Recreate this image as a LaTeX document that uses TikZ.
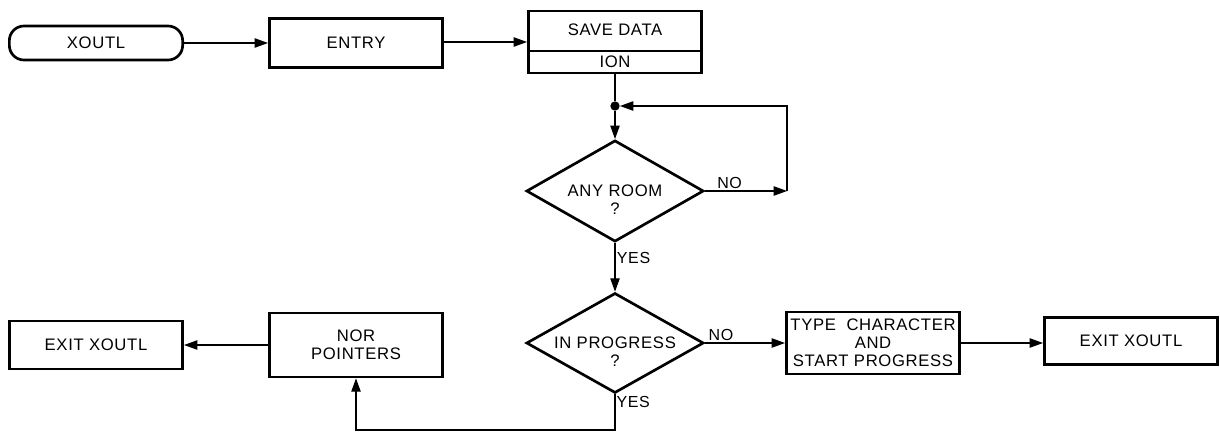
\documentclass[tikz,border=0pt]{standalone}
\usepackage{fontspec}
\setmainfont[LetterSpace=4]{Liberation Sans}
\usepackage{tikz}
\usetikzlibrary{shapes.geometric,arrows.meta}

\begin{document}
\begin{tikzpicture}[x=0.75pt, y=-0.75pt,
  box/.style={draw, line width=2pt, minimum width=130pt, align=center, inner sep=2pt},
  term/.style={box, rounded corners=11pt, minimum height=25.5pt},
  decide/.style={draw, line width=2pt, diamond, minimum width=133pt, minimum height=76pt},
  ask/.style={align=center, yshift=-6.5pt},
  flow/.style={line width=0.9pt, -{Triangle[length=10pt,width=7pt]}},
  tag/.style={inner sep=1pt, font=\fontsize{12}{13}\selectfont}]

  \fontsize{12.5}{13.5}\selectfont

  \newcommand\XA{96};
  \newcommand\XB{356};
  \newcommand\XC{615};
  \newcommand\XD{873};
  \newcommand\XE{1131};
  \newcommand\XLOOP{787};

  \newcommand\YA{43};
  \newcommand\YB{343};

  \useasboundingbox (0,0) rectangle (1220,432);

  % top row
  \node[term] (xoutl) at (\XA, \YA) {XOUTL};
  \node[box, minimum height=37pt] (entry) at (\XB, \YA) {ENTRY};
  \node[box, minimum height=46.5pt] (save) at (\XC, 42) {};
  \node (savetxt) at (\XC, 30) {SAVE DATA};
  \node (ion) at (\XC, 62) {ION};
  \draw[line width=1pt] (save.west |- 0,51) -- (save.east |- 0,51);

  \node[circle, fill, inner sep=0pt, minimum size=7pt] (dot) at (\XC, 106) {};

  % decisions
  \node[decide, label={[ask]center:ANY ROOM\\?}] (room) at (\XC, 191) {};
  \node[decide, minimum height=75pt, label={[ask]center:IN PROGRESS\\?}] (prog) at (\XC, \YB) {};

  % bottom row
  \node[box, minimum height=46.5pt] (type) at (\XD, \YB) {TYPE \ CHARACTER\\AND\\START PROGRESS};
  \node[box, minimum height=35pt] (exitr) at (\XE, 341) {EXIT XOUTL};
  \node[box, minimum height=48pt] (nor) at (\XB, 345) {NOR\\POINTERS};
  \node[box, minimum height=36pt] (exitl) at (\XA, 345) {EXIT XOUTL};

  \coordinate (loop) at (\XLOOP, 191);
  \coordinate (back) at (\XB, 430);

  \draw[flow] (xoutl) -- (entry);
  \draw[flow] (entry.east |- save) -- (save);
  \draw[line width=0.9pt] (save) -- (dot);
  \draw[flow] (dot) -- (room);

  \draw[flow] (room.east) -- node[tag, above, pos=0.3]{NO} (loop);
  \draw[flow] (loop) |- (dot);
  \draw[flow] (room.south) -- node[tag, right, pos=0.3]{YES} (prog.north);

  \draw[flow] (prog.east) -- node[tag, above, pos=0.2]{NO} (type);
  \draw[flow] (type) -- (exitr.west |- type);
  \draw[flow] (prog.south) |- (back) -- (nor.south);
  \node[tag, below right] (yes2) at (prog.south) {YES};
  \draw[flow] (nor) -- (exitl);

\end{tikzpicture}
\end{document}
